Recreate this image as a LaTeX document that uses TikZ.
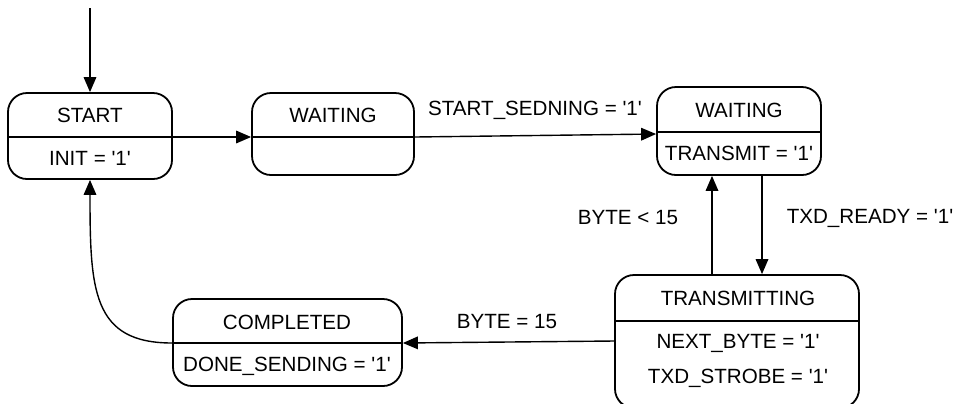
\documentclass[tikz,border=0pt]{standalone}
\usepackage{fontspec}
\setmainfont{Liberation Sans}
\usetikzlibrary{positioning, arrows.meta, calc}
\newcommand{\sq}{\textquotesingle}

\begin{document}
\begin{tikzpicture}[
    x=0.5pt, y=-0.5pt,
    >={Triangle[length=7.5pt, width=6.3pt]},
    font=\fontsize{10.3}{12}\selectfont,
    % ---- shared styles ---------------------------------------------------
    state/.style={draw, line width=0.9pt, rounded corners=9.5pt,
                  inner sep=0pt},
    txt/.style={inner sep=0pt},
    lbl/.style={inner sep=0pt},
    flow/.style={->, line width=0.7pt},
    bar/.style={line width=0.8pt},
  ]
\useasboundingbox (0,0) rectangle (957,403);
\clip (0,0) rectangle (957,403);

% =========================================================================
% states
% =========================================================================
\node[state, minimum width=82pt, minimum height=43pt] (start) at (90,136) {};
\node[txt] (startname) at (90,115) {START};
\node[txt] (startout)  at (90,158) {INIT = \sq1\sq};
\draw[bar] (start.west |- 0,137) -- (start.east |- 0,137);

\node[state, minimum width=81pt, minimum height=41pt] (idle) at (333,134) {};
\node[txt] (idlename) at (333,115) {WAITING};
\draw[bar] (idle.west |- 0,137) -- (idle.east |- 0,137);

\node[state, minimum width=82pt, minimum height=44pt] (wait) at (739,131) {};
\node[txt] (waitname) at (739,110) {WAITING};
\node[txt] (waitout)  at (739,153) {TRANSMIT = \sq1\sq};
\draw[bar] (wait.west |- 0,132) -- (wait.east |- 0,132);

% runs past the lower edge of the picture
\node[state, minimum width=122pt, minimum height=66.5pt] (trans) at (737,341.5) {};
\node[txt] (transname) at (738,298) {TRANSMITTING};
\node[txt] (transout1) at (738,343) {NEXT\_BYTE = \sq1\sq};
\node[txt] (transout2) at (738,378) {TXD\_STROBE = \sq1\sq};
\draw[bar] (trans.west |- 0,321) -- (trans.east |- 0,321);

\node[state, minimum width=114.5pt, minimum height=43.5pt] (done) at (287.5,342.5) {};
\node[txt] (donename) at (287,322) {COMPLETED};
\node[txt] (doneout)  at (287,366) {DONE\_SENDING = \sq1\sq};
\draw[bar] (done.west |- 0,343) -- (done.east |- 0,343);

% =========================================================================
% transitions
% =========================================================================
\coordinate (entry) at (90,8);
\draw[flow] (entry) -- (start.north);
\draw[flow] (start.east |- 0,137) -- (idle.west |- 0,137);

\draw[flow] (idle.east |- 0,137) -- (wait.west |- 0,134);
\node[lbl] (lsend) at (535,110) {START\_SEDNING = \sq1\sq};

\draw[flow] ([xshift=-12.5pt]trans.north) -- ([xshift=-12.5pt]trans.north |- wait.south);
\node[lbl] (lless) at (628,218) {BYTE < 15};
\draw[flow] ([xshift=12.5pt]trans.north |- wait.south) -- ([xshift=12.5pt]trans.north);
\node[lbl] (lready) at (870,218) {TXD\_READY = \sq1\sq};

\draw[flow] (trans.west |- 0,341) -- (done.east |- 0,343);
\node[lbl] (lequal) at (507,322) {BYTE = 15};

\draw[flow] (done.west |- 0,343) .. controls +(-80,0) and +(0,110) .. (start.south);

\end{tikzpicture}
\end{document}
